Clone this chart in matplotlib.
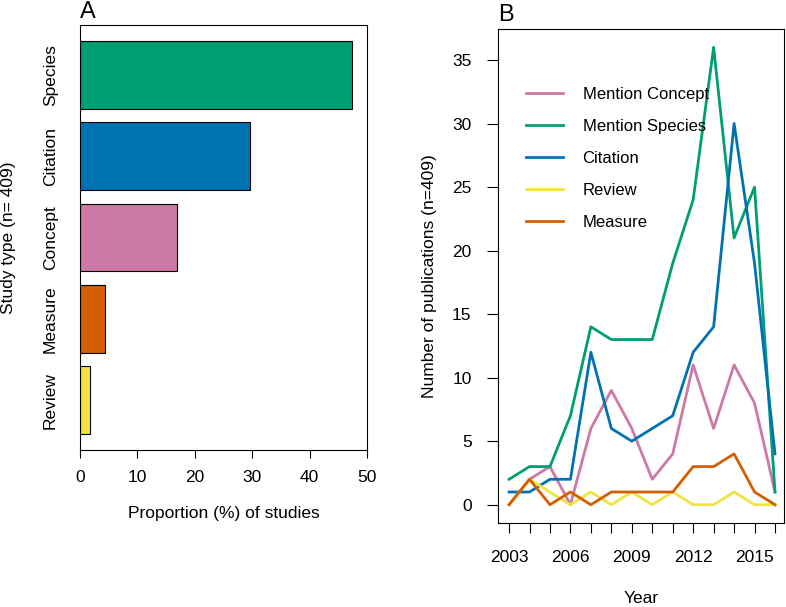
import numpy as np
import matplotlib
matplotlib.use("Agg")
import matplotlib.pyplot as plt

plt.rcParams['font.family'] = ['Liberation Sans', 'DejaVu Sans']

# Panel A: share of studies by type
study_types = ["Review", "Measure", "Concept", "Citation", "Species"]
proportions = [1.7, 4.4, 16.9, 29.6, 47.4]
bar_colors = ["#F0E442", "#D55E00", "#CC79A7", "#0072B2", "#009E73"]

# Panel B: publications per year
years = list(range(2003, 2017))
mention_concept = [0, 2, 3, 0, 6, 9, 6, 2, 4, 11, 6, 11, 8, 1]
mention_species = [2, 3, 3, 7, 14, 13, 13, 13, 19, 24, 36, 21, 25, 1]
citation = [1, 1, 2, 2, 12, 6, 5, 6, 7, 12, 14, 30, 19, 4]
review = [0, 2, 1, 0, 1, 0, 1, 0, 1, 0, 0, 1, 0, 0]
measure = [0, 2, 0, 1, 0, 1, 1, 1, 1, 3, 3, 4, 1, 0]

series = [
    ("Mention Concept", mention_concept, "#CC79A7"),
    ("Mention Species", mention_species, "#009E73"),
    ("Citation", citation, "#0072B2"),
    ("Review", review, "#F0E442"),
    ("Measure", measure, "#D55E00"),
]

W, H = 786, 607
fig = plt.figure(figsize=(W / 100, H / 100), dpi=100)

def px_axes(l, t, r, b):
    return fig.add_axes([l / W, 1 - b / H, (r - l) / W, (b - t) / H])

fs = 12.5

# ---- A ----
axA = px_axes(80, 25, 367, 450)
pos = [0.7 + 1.2 * i for i in range(len(study_types))]
axA.barh(pos, proportions, height=1.0, color=bar_colors, edgecolor="black", linewidth=0.8)
axA.set_xlim(0, 50)
axA.set_ylim(-0.032, 6.232)
axA.set_yticks(pos)
axA.set_yticklabels(study_types, rotation=90, va="center", fontsize=fs)
axA.tick_params(axis="y", length=0, pad=16)
axA.set_xticks(range(0, 51, 10))
axA.tick_params(axis="x", length=5.5, width=0.8, labelsize=fs, pad=9)
axA.set_xlabel("Proportion (%) of studies", fontsize=fs, labelpad=15)
axA.set_ylabel("Study type (n= 409)", fontsize=fs, labelpad=19)
for s in axA.spines.values():
    s.set_linewidth(0.8)
fig.text(80 / W, 1 - 1 / H, "A", fontsize=17, ha="left", va="top")

# ---- B ----
axB = px_axes(498, 29, 784, 523)
for name, vals, col in series:
    axB.plot(years, vals, color=col, lw=2.0, label=name)
axB.set_xlim(2002.46, 2016.44)
axB.set_ylim(-1.44, 37.44)
axB.set_xticks(years)
axB.set_xticklabels([str(y) if (y - 2003) % 3 == 0 else "" for y in years])
axB.set_yticks(range(0, 36, 5))
axB.tick_params(axis="x", length=7.5, width=0.8, labelsize=fs, pad=12)
axB.tick_params(axis="y", length=8, width=0.8, labelsize=fs, pad=11)
axB.set_xlabel("Year", fontsize=fs, labelpad=19)
axB.set_ylabel("Number of publications (n=409)", fontsize=fs, labelpad=11)
for s in axB.spines.values():
    s.set_linewidth(0.8)
axB.legend(loc="upper left", bbox_to_anchor=(0.045, 0.913), frameon=False,
           fontsize=12, handlelength=2.2, handletextpad=1.2, labelspacing=1.02)
fig.text(498 / W, 1 - 4 / H, "B", fontsize=17, ha="left", va="top")

fig.savefig("out.png", dpi=100)
